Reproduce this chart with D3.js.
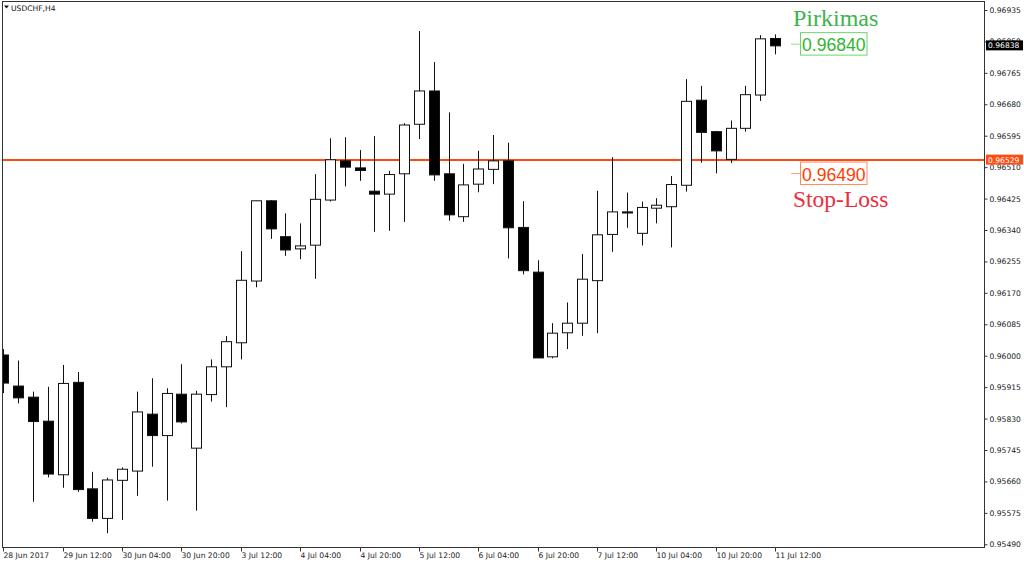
<!DOCTYPE html>
<html>
<head>
<meta charset="utf-8">
<script src="https://cdn.jsdelivr.net/npm/d3@7"></script>
<style>
  html, body { margin: 0; padding: 0; background: #fff; }
  svg { display: block; }
</style>
</head>
<body>
<svg id="chart" width="1024" height="567"></svg>
<script>
const symbolTitle = "USDCHF,H4";
const categories = [
  "28 Jun 20:00",
  "29 Jun 00:00","29 Jun 04:00","29 Jun 08:00","29 Jun 12:00","29 Jun 16:00","29 Jun 20:00",
  "30 Jun 00:00","30 Jun 04:00","30 Jun 08:00","30 Jun 12:00","30 Jun 16:00","30 Jun 20:00",
  "3 Jul 00:00","3 Jul 04:00","3 Jul 08:00","3 Jul 12:00","3 Jul 16:00","3 Jul 20:00",
  "4 Jul 00:00","4 Jul 04:00","4 Jul 08:00","4 Jul 12:00","4 Jul 16:00","4 Jul 20:00",
  "5 Jul 00:00","5 Jul 04:00","5 Jul 08:00","5 Jul 12:00","5 Jul 16:00","5 Jul 20:00",
  "6 Jul 00:00","6 Jul 04:00","6 Jul 08:00","6 Jul 12:00","6 Jul 16:00","6 Jul 20:00",
  "7 Jul 00:00","7 Jul 04:00","7 Jul 08:00","7 Jul 12:00","7 Jul 16:00","7 Jul 20:00",
  "10 Jul 00:00","10 Jul 04:00","10 Jul 08:00","10 Jul 12:00","10 Jul 16:00","10 Jul 20:00",
  "11 Jul 00:00","11 Jul 04:00","11 Jul 08:00","11 Jul 12:00"
];
const openV = [
  0.96002,0.95918,0.95888,0.95823,0.95678,0.95928,0.95640,0.95560,0.95663,0.95688,
  0.95842,0.95784,0.95896,0.95750,0.95895,0.95970,0.96035,0.96202,0.96419,0.96322,
  0.96289,0.96299,0.96421,0.96527,0.96508,0.96445,0.96437,0.96492,0.96626,0.96716,
  0.96492,0.96376,0.96464,0.96504,0.96527,0.96347,0.96226,0.95997,0.96062,0.96088,
  0.96203,0.96328,0.96389,0.96331,0.96399,0.96403,0.96461,0.96691,0.96606,0.96531,
  0.96615,0.96705,0.96858
];
const highV = [
  0.96018,0.95987,0.95903,0.95916,0.95975,0.95956,0.95686,0.95670,0.95698,0.95903,
  0.95939,0.95912,0.95977,0.95905,0.95990,0.96053,0.96283,0.96419,0.96421,0.96385,
  0.96358,0.96491,0.96588,0.96591,0.96556,0.96594,0.96500,0.96629,0.96878,0.96794,
  0.96658,0.96519,0.96554,0.96597,0.96576,0.96418,0.96258,0.96088,0.96144,0.96275,
  0.96446,0.96537,0.96441,0.96417,0.96426,0.96486,0.96748,0.96730,0.96608,0.96636,
  0.96730,0.96867,0.96869
];
const lowV = [
  0.95899,0.95871,0.95605,0.95671,0.95643,0.95632,0.95551,0.95520,0.95556,0.95621,
  0.95700,0.95608,0.95817,0.95581,0.95876,0.95861,0.95990,0.96185,0.96316,0.96270,
  0.96261,0.96208,0.96417,0.96458,0.96473,0.96335,0.96338,0.96362,0.96586,0.96473,
  0.96365,0.96362,0.96442,0.96464,0.96263,0.96220,0.95994,0.95993,0.96018,0.96054,
  0.96061,0.96281,0.96346,0.96298,0.96358,0.96293,0.96444,0.96522,0.96493,0.96521,
  0.96606,0.96689,0.96815
];
const closeV = [
  0.95926,0.95886,0.95822,0.95680,0.95925,0.95638,0.95560,0.95664,0.95693,0.95848,
  0.95784,0.95898,0.95821,0.95896,0.95970,0.96038,0.96204,0.96419,0.96343,0.96286,
  0.96297,0.96423,0.96530,0.96510,0.96501,0.96437,0.96490,0.96624,0.96716,0.96489,
  0.96381,0.96462,0.96505,0.96527,0.96346,0.96230,0.95994,0.96061,0.96088,0.96207,
  0.96327,0.96389,0.96386,0.96401,0.96407,0.96463,0.96688,0.96604,0.96554,0.96615,
  0.96706,0.96857,0.96838
];
const priceTicks = [
  0.96935,0.96850,0.96765,0.96680,0.96595,0.96510,0.96425,0.96340,0.96255,
  0.96170,0.96085,0.96000,0.95915,0.95830,0.95745,0.95660,0.95575,0.95490
];
const timeTickCategories = [
  "28 Jun 20:00","29 Jun 12:00","30 Jun 04:00","30 Jun 20:00","3 Jul 12:00","4 Jul 04:00","4 Jul 20:00",
  "5 Jul 12:00","6 Jul 04:00","6 Jul 20:00","7 Jul 12:00","10 Jul 04:00","10 Jul 20:00","11 Jul 12:00"
];
const timeTickLabels = [
  "28 Jun 2017","29 Jun 12:00","30 Jun 04:00","30 Jun 20:00","3 Jul 12:00","4 Jul 04:00","4 Jul 20:00",
  "5 Jul 12:00","6 Jul 04:00","6 Jul 20:00","7 Jul 12:00","10 Jul 04:00","10 Jul 20:00","11 Jul 12:00"
];
const currentPrice = 0.96838;
const levelPrice = 0.96529;
const buyPrice = 0.96840;
const buyLabel = "Pirkimas";
const stopPrice = 0.96490;
const stopLabel = "Stop-Loss";

const svg = d3.select("#chart");
const plot = { left: 2.5, top: 1.5, right: 984.5, bottom: 547.5 };
const axisFont = "DejaVu Sans, sans-serif";

const x = d3.scalePoint().domain(categories).range([3.4, 775.1]);
const y = d3.scaleLinear().domain([0.95490, 0.96935]).range([544.3, 10]);

const candles = categories.map((c, i) => ({ c, o: openV[i], h: highV[i], l: lowV[i], cl: closeV[i] }));

svg.append("defs").append("clipPath").attr("id", "plotclip")
  .append("rect").attr("x", plot.left).attr("y", plot.top)
  .attr("width", plot.right - plot.left).attr("height", plot.bottom - plot.top);

const g = svg.append("g").attr("clip-path", "url(#plotclip)");

// horizontal level line
g.append("line")
  .attr("x1", plot.left).attr("x2", plot.right)
  .attr("y1", y(levelPrice)).attr("y2", y(levelPrice))
  .attr("stroke", "#ff4a12").attr("stroke-width", 2);

const cg = g.selectAll("g.candle").data(candles).join("g").attr("class", "candle");
cg.append("line")
  .attr("x1", d => Math.round(x(d.c)) + 0.5).attr("x2", d => Math.round(x(d.c)) + 0.5)
  .attr("y1", d => y(d.h)).attr("y2", d => y(d.l))
  .attr("stroke", "#111").attr("stroke-width", 1);
cg.append("rect")
  .attr("x", d => Math.round(x(d.c)) - 4.5)
  .attr("width", 10)
  .attr("y", d => Math.min(y(d.o), y(d.cl)))
  .attr("height", d => Math.max(1, Math.abs(y(d.o) - y(d.cl))))
  .attr("fill", d => d.cl < d.o ? "#000" : "#fff")
  .attr("stroke", "#111").attr("stroke-width", 1);

// frame
svg.append("rect")
  .attr("x", plot.left).attr("y", plot.top)
  .attr("width", plot.right - plot.left).attr("height", plot.bottom - plot.top)
  .attr("fill", "none").attr("stroke", "#333").attr("stroke-width", 1);

// right price axis
const yAxis = d3.axisRight(y).tickValues(priceTicks).tickSize(3).tickPadding(2)
  .tickFormat(d3.format(".5f"));
const ya = svg.append("g").attr("transform", `translate(${plot.right},0)`).call(yAxis);
ya.select(".domain").remove();
ya.selectAll("line").attr("stroke", "#333");
ya.selectAll("text").attr("font-family", axisFont).attr("font-size", 7.6).attr("fill", "#222");

// bottom time axis
const xAxis = d3.axisBottom(x).tickValues(timeTickCategories).tickSize(4).tickPadding(2)
  .tickFormat(d => timeTickLabels[timeTickCategories.indexOf(d)]);
const xa = svg.append("g").attr("transform", `translate(0,${plot.bottom})`).call(xAxis);
xa.select(".domain").remove();
xa.selectAll(".tick").attr("transform", d => `translate(${Math.round(x(d)) + 0.5},0)`);
xa.selectAll("line").attr("stroke", "#333");
xa.selectAll("text").attr("font-family", axisFont).attr("font-size", 7.6).attr("fill", "#222")
  .attr("text-anchor", "start").attr("x", 0).attr("dy", "0.71em").attr("y", 5);

// price labels on axis
function axisTag(price, bg, txt) {
  const yy = y(price);
  svg.append("rect").attr("x", 986).attr("y", yy - 5.5).attr("width", 37).attr("height", 10).attr("fill", bg);
  svg.append("text").attr("x", 988).attr("y", yy).attr("dy", "0.34em")
    .attr("font-family", axisFont).attr("font-size", 7.6).attr("fill", txt)
    .text(d3.format(".5f")(price));
}
axisTag(currentPrice, "#000", "#fff");
axisTag(levelPrice, "#ff4a12", "#fff");

// title
svg.append("path").attr("d", "M4,5.5 L9,5.5 L6.5,8.5 Z").attr("fill", "#111");
svg.append("text").attr("x", 11).attr("y", 11)
  .attr("font-family", axisFont).attr("font-size", 7.6).attr("fill", "#111").text(symbolTitle);

// annotations
function priceNote(price, boxStroke, textColor, dashColor) {
  const yy = y(price);
  svg.append("line").attr("x1", 791).attr("x2", 800).attr("y1", yy - 1).attr("y2", yy - 1)
    .attr("stroke", dashColor).attr("stroke-width", 1);
  svg.append("rect").attr("x", 800.5).attr("y", yy - 12.5).attr("width", 66.5).attr("height", 22.5)
    .attr("fill", "#fff").attr("stroke", boxStroke).attr("stroke-width", 1);
  svg.append("text").attr("x", 802).attr("y", yy + 6)
    .attr("font-family", "Liberation Sans, Arial, sans-serif").attr("font-size", 17.6)
    .attr("fill", textColor).text(d3.format(".5f")(price));
}
priceNote(buyPrice, "#6fd46f", "#2fb52f", "#8fdc8f");
priceNote(stopPrice, "#ff8a5c", "#ff3c00", "#ff9a7a");

svg.append("text").attr("x", 793).attr("y", y(buyPrice) - 19)
  .attr("font-family", "Liberation Serif, Times New Roman, serif").attr("font-size", 24)
  .attr("fill", "#3cb44b").text(buyLabel);
svg.append("text").attr("x", 793).attr("y", y(stopPrice) + 32)
  .attr("font-family", "Liberation Serif, Times New Roman, serif").attr("font-size", 23.5)
  .attr("fill", "#ee2b3b").text(stopLabel);
</script>
</body>
</html>
